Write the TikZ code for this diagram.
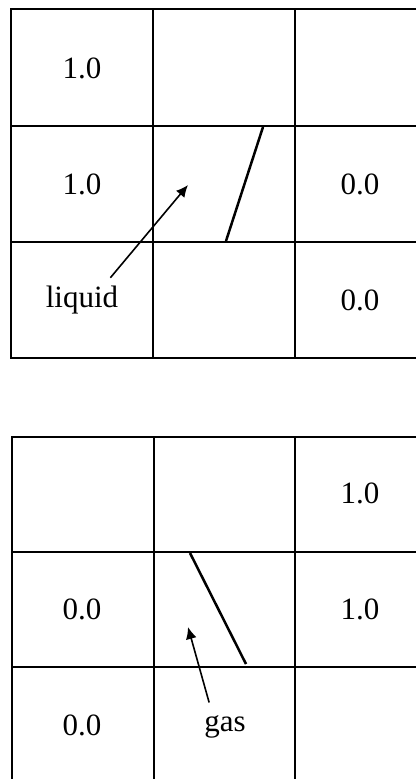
\documentclass[tikz,border=0pt]{standalone}
\usepackage{fontspec}
\setmainfont{Liberation Serif}
\usetikzlibrary{arrows.meta}

\begin{document}
\begin{tikzpicture}[
  x=1pt, y=-1pt,
  cellline/.style={
    draw=black,
    line width=1.7pt
  },
  value/.style={
    font=\fontsize{31}{36}\selectfont,
    inner sep=0pt
  },
  iface/.style={
    line width=2.5pt
  },
  arrow/.style={
    -{Latex[length=12pt, width=11pt]},
    line width=1.6pt
  }
]
\useasboundingbox (0,0) rectangle (416,779);

% upper grid (liquid)
\draw[cellline] (416,9) -- (11,9) -- (11,358) -- (416,358);
\draw[cellline] (11,126) -- (416,126);
\draw[cellline] (11,242) -- (416,242);
\draw[cellline] (153,9) -- (153,358);
\draw[cellline] (295,9) -- (295,358);

\node[value] (up11) at (82,68)   {1.0};
\node[value] (up21) at (82,184)  {1.0};
\node[value] (up23) at (360,184) {0.0};
\node[value] (up33) at (360,300) {0.0};
\node[value] (liq)  at (82,300)  {liquid};

\coordinate (ltop) at (263,127);
\coordinate (lbot) at (226,241);
\coordinate (ltip) at (188,185);
\draw[iface] (ltop) -- (lbot);
\draw[arrow] ([shift={(-8pt,8pt)}]liq.north east) -- (ltip);

% lower grid (gas)
\draw[cellline] (416,437) -- (12,437) -- (12,779);
\draw[cellline] (12,552) -- (416,552);
\draw[cellline] (12,667) -- (416,667);
\draw[cellline] (154,437) -- (154,779);
\draw[cellline] (295,437) -- (295,779);

\node[value] (lo13) at (360,493) {1.0};
\node[value] (lo21) at (82,609)  {0.0};
\node[value] (lo23) at (360,609) {1.0};
\node[value] (lo31) at (82,725)  {0.0};
\node[value] (gas)  at (225,727) {gas};

\coordinate (gtop) at (190,553);
\coordinate (gbot) at (246,664);
\coordinate (gtip) at (188,627);
\draw[iface] (gtop) -- (gbot);
\draw[arrow] ([shift={(5pt,13pt)}]gas.north west) -- (gtip);

\end{tikzpicture}
\end{document}
